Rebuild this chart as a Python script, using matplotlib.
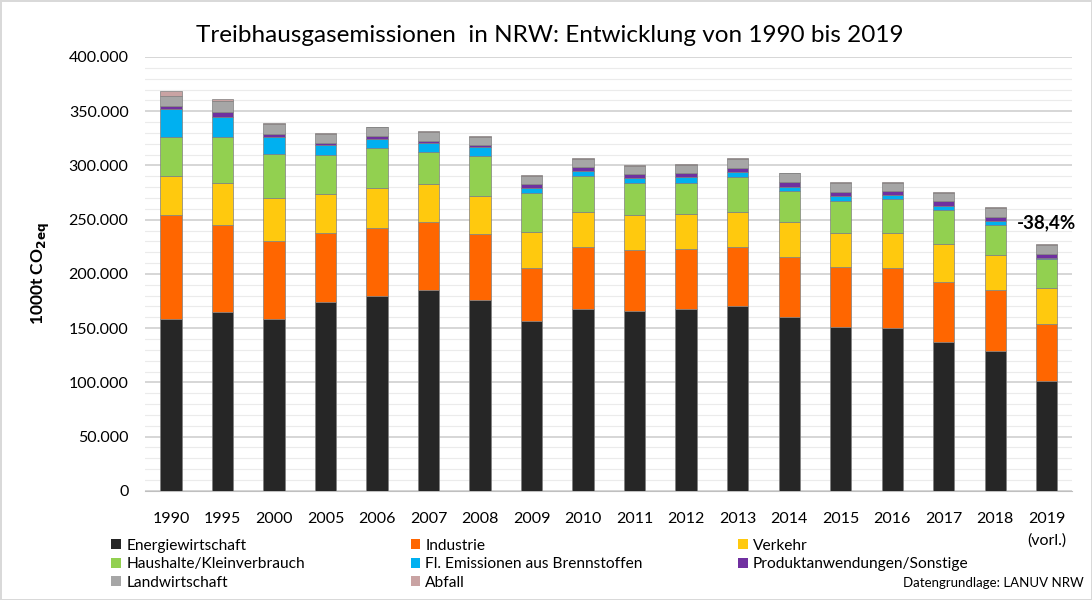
import numpy as np
import matplotlib.pyplot as plt
from matplotlib.ticker import MultipleLocator, FuncFormatter
from matplotlib.patches import Patch

plt.rcParams['font.family'] = ['Lato', 'DejaVu Sans']

years = ['1990', '1995', '2000', '2005', '2006', '2007', '2008', '2009', '2010',
         '2011', '2012', '2013', '2014', '2015', '2016', '2017', '2018', '2019\n(vorl.)']

# Werte in Mio. t (x1000 -> 1000t CO2eq)
energie = [158.5, 165.0, 158.3, 174.0, 179.7, 185.0, 175.5, 156.7, 167.5,
           166.0, 168.0, 170.3, 160.7, 150.8, 149.8, 137.6, 129.3, 101.7]
industrie = [95.5, 80.0, 71.7, 63.5, 63.0, 62.6, 61.1, 48.3, 57.1,
             56.0, 55.0, 54.3, 54.7, 55.2, 55.2, 55.3, 56.0, 51.9]
verkehr = [36.0, 38.5, 40.0, 36.2, 36.3, 35.4, 35.4, 34.0, 32.3,
           32.4, 32.3, 32.3, 32.2, 32.0, 33.0, 34.5, 32.2, 33.2]
haushalte = [36.5, 43.0, 40.6, 36.0, 37.4, 29.7, 36.8, 35.4, 33.4,
             29.2, 28.3, 32.1, 29.2, 29.6, 30.8, 31.6, 27.7, 26.7]
fl_emissionen = [25.5, 18.5, 15.4, 8.9, 7.6, 7.7, 8.0, 5.2, 4.7,
                 4.6, 5.4, 5.3, 3.7, 4.3, 4.0, 4.0, 3.6, 1.5]
produkt = [3.0, 4.0, 3.0, 2.4, 3.0, 2.6, 2.2, 3.0, 4.0,
           3.7, 3.8, 3.4, 4.0, 4.0, 3.4, 4.0, 4.0, 3.0]
landwirtschaft = [9.0, 10.5, 9.0, 7.9, 8.0, 7.7, 7.2, 7.6, 6.8,
                  7.8, 7.8, 8.1, 8.1, 8.1, 8.0, 7.8, 7.8, 8.6]
abfall = [5.0, 1.5, 1.5, 0.8, 0.8, 0.8, 0.8, 0.8, 0.8,
          0.8, 0.8, 0.8, 0.8, 0.8, 0.8, 0.8, 0.8, 0.8]

sektoren = ['Energiewirtschaft', 'Industrie', 'Verkehr', 'Haushalte/Kleinverbrauch',
            'Fl. Emissionen aus Brennstoffen', 'Produktanwendungen/Sonstige',
            'Landwirtschaft', 'Abfall']
farben = ['#262626', '#ff6600', '#ffc90e', '#92d050', '#00b0f0', '#7030a0', '#a6a6a6', '#c9a3a3']
reihen = [energie, industrie, verkehr, haushalte, fl_emissionen, produkt, landwirtschaft, abfall]

fig = plt.figure(figsize=(10.92, 6), dpi=100)
fig.patch.set_edgecolor('#d9d9d9')
fig.patch.set_linewidth(2)
ax = fig.add_axes([0.133, 0.182, 0.849, 0.723])

x = np.arange(len(years))
bottom = np.zeros(len(years))
for name, werte, farbe in zip(sektoren, reihen, farben):
    werte = np.array(werte) * 1000
    ax.bar(x, werte, 0.41, bottom=bottom, color=farbe, edgecolor='#7f7f7f',
           linewidth=0.5, label=name, zorder=3)
    bottom += werte

ax.set_xlim(-0.5, 17.5)
ax.set_ylim(0, 400000)
ax.yaxis.set_major_locator(MultipleLocator(50000))
ax.yaxis.set_minor_locator(MultipleLocator(10000))
ax.yaxis.set_major_formatter(FuncFormatter(lambda v, p: f'{int(v):,}'.replace(',', '.')))
ax.grid(axis='y', which='major', color='#cfcfcf', linewidth=1.2, zorder=0)
ax.grid(axis='y', which='minor', color='#ebebeb', linewidth=0.8, zorder=0)
ax.tick_params(axis='both', which='both', length=0, labelsize=11.5, colors='#000000')
ax.tick_params(axis='y', pad=12)
ax.tick_params(axis='x', pad=15)
ax.set_xticks(x)
ax.set_xticklabels(years, va='top', linespacing=1.7)
for s in ['top', 'right', 'left']:
    ax.spines[s].set_visible(False)
ax.spines['bottom'].set_color('#bfbfbf')

ax.set_ylabel('1000t CO$_{\\mathbf{2eq}}$', fontsize=12.5, fontweight='bold', labelpad=12)

veraenderung = (bottom[-1] / bottom[0] - 1) * 100
ax.text(x[-1], bottom[-1] + 12000, f'{veraenderung:.1f}%'.replace('.', ','),
        ha='center', va='bottom', fontsize=13.5, fontweight='bold')

fig.text(0.503, 0.94, 'Treibhausgasemissionen  in NRW: Entwicklung von 1990 bis 2019',
         ha='center', va='center', fontsize=17.5)

handles = [Patch(facecolor=f, edgecolor='none') for f in farben]
spalten = [[0, 3, 6], [1, 4, 7], [2, 5]]
x_spalten = [0.102, 0.376, 0.676]
for idx, xs in zip(spalten, x_spalten):
    fig.legend([handles[i] for i in idx], [sektoren[i] for i in idx],
               loc='upper left', bbox_to_anchor=(xs, 0.102), frameon=False,
               fontsize=11.2, handlelength=0.6, handleheight=0.6,
               handletextpad=0.35, labelspacing=0.28, borderaxespad=0, borderpad=0)

fig.text(0.992, 0.028, 'Datengrundlage: LANUV NRW', ha='right', va='center', fontsize=9.5)

fig.savefig('out.png', dpi=100)
